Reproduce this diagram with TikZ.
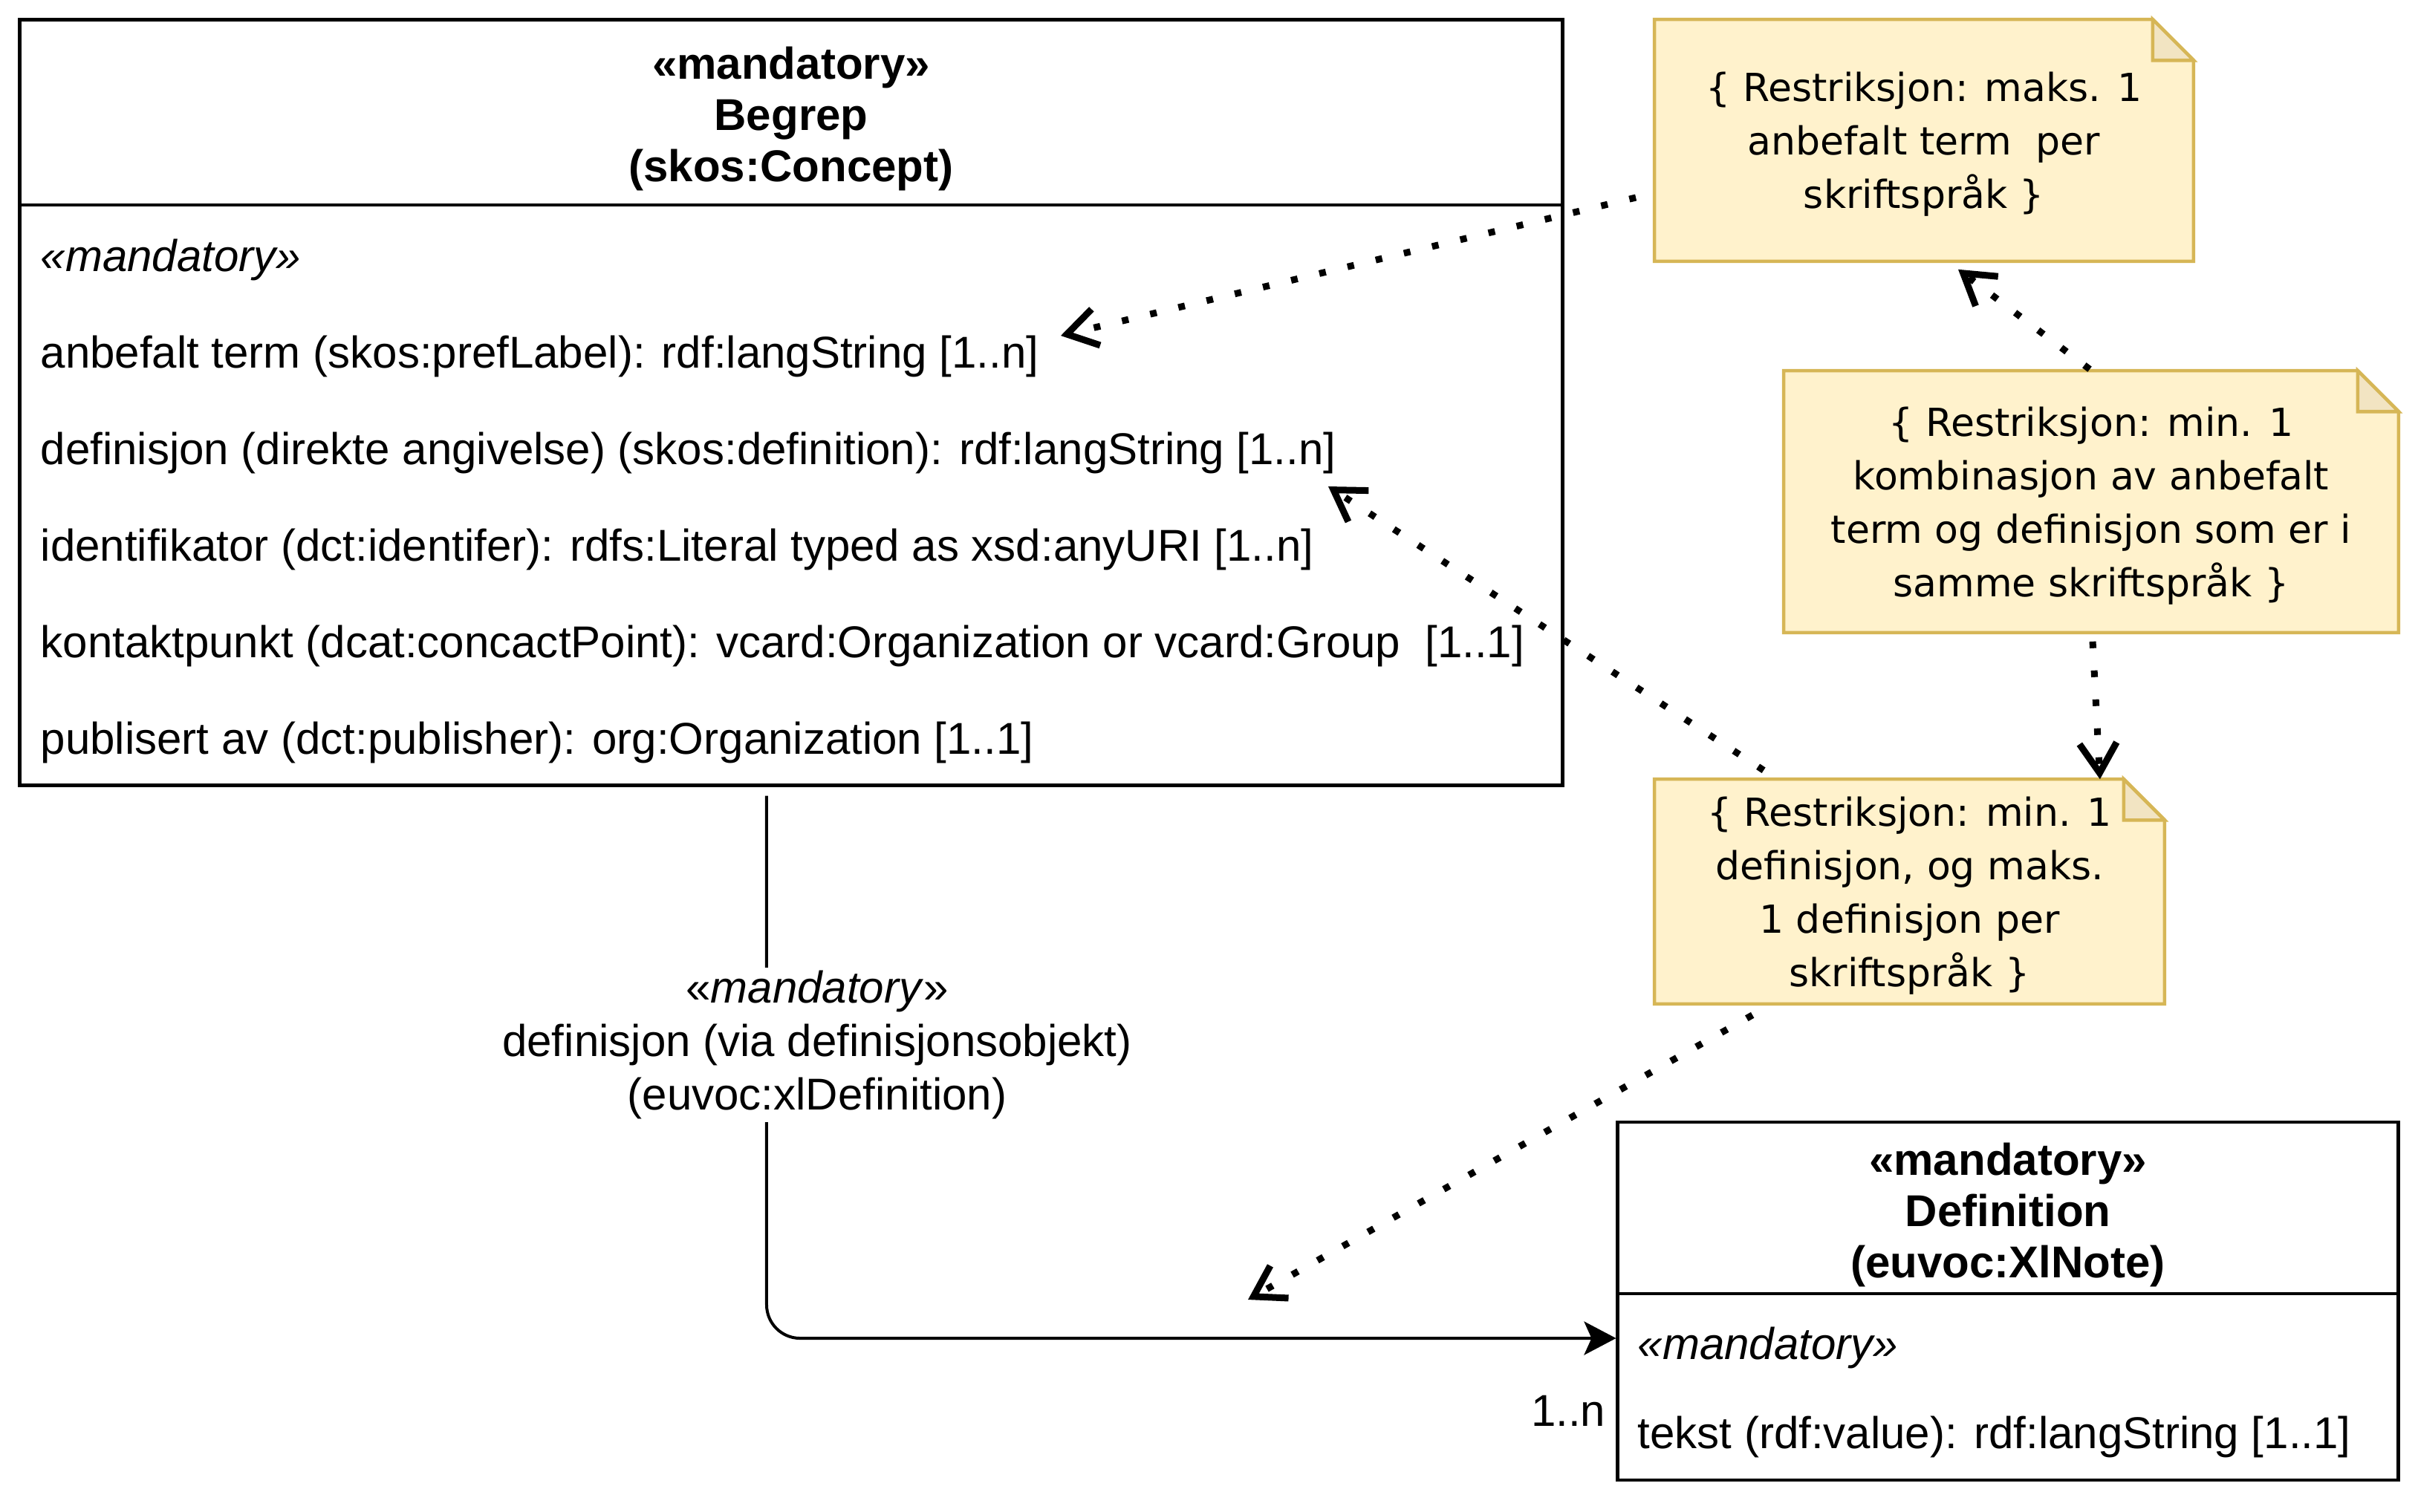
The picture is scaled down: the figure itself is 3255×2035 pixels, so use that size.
\documentclass[tikz,border=0pt]{standalone}
\usepackage{fontspec}
\setmainfont{Liberation Sans}
\newfontfamily\notefont{DejaVu Sans}
\usetikzlibrary{positioning, arrows.meta, backgrounds}
\definecolor{notefill}{HTML}{FFF2CC}
\definecolor{noteline}{HTML}{D6B656}
\definecolor{notefold}{HTML}{F2E4C2}

\begin{document}
\begin{tikzpicture}[x=0.01cm, y=-0.01cm,
    umlbox/.style={draw, line width=0.045cm, inner sep=0},
    hdr/.style={font=\fontsize{17.07pt}{19.6pt}\selectfont\bfseries, align=center, inner sep=0, text depth=0pt},
    attr/.style={font=\fontsize{17.07pt}{20pt}\selectfont, anchor=base west, inner sep=0},
    lbl/.style={font=\fontsize{17.07pt}{20.5pt}\selectfont, align=center, fill=white, inner xsep=0, inner ysep=0.04cm},
    note/.style={font=\notefont\fontsize{14.8pt}{20.5pt}\selectfont, align=center, inner sep=0, text depth=0pt},
    assoc/.style={line width=0.04cm, rounded corners=0.45cm, -{Stealth[length=0.43cm, width=0.45cm, inset=0.1cm]}},
    dotarrow/.style={line width=0.09cm, dash pattern=on 0.09cm off 0.3cm, -{Straight Barb[length=0.4cm, width=0.5cm]}}]
  \useasboundingbox (0,0) rectangle (3255,2035);

  % Begrep
  \node[umlbox, minimum width=20.76cm, minimum height=10.3cm] (begrep) at (1065,542) {};
  \coordinate (bsplit) at (0,276);
  \draw[line width=0.045cm] (begrep.west |- bsplit) -- (begrep.east |- bsplit);
  \node[hdr] (begrepHead) at (1065,154) {«mandatory»\\Begrep\\(skos:Concept)};
  \foreach \txt [count=\i] in {{\textit{«mandatory»}},
      {anbefalt term (skos:prefLabel): rdf:langString [1..n]},
      {definisjon (direkte angivelse) (skos:definition): rdf:langString [1..n]},
      {identifikator (dct:identifer): rdfs:Literal typed as xsd:anyURI [1..n]},
      {kontaktpunkt (dcat:concactPoint): vcard:Organization or vcard:Group\ \ [1..1]},
      {publisert av (dct:publisher): org:Organization [1..1]}}
    \node[attr] (battr\i) at (54, 235+130*\i) {\txt};

  % Definition
  \node[umlbox, minimum width=10.5cm, minimum height=4.82cm] (definition) at (2703,1752) {};
  \coordinate (dsplit) at (0,1742);
  \draw[line width=0.045cm] (definition.west |- dsplit) -- (definition.east |- dsplit);
  \node[hdr] (defHead) at (2703,1630) {«mandatory»\\Definition\\(euvoc:XlNote)};
  \node[attr] (dattr1) at (2204,1830) {\textit{«mandatory»}};
  \node[attr] (dattr2) at (2204,1950) {tekst (rdf:value): rdf:langString [1..1]};

  % notes
  \node[note, minimum width=7.24cm, minimum height=3.24cm] (noteA) at (2590,189)
    {\{ Restriksjon: maks. 1\\anbefalt term\ \ per\\skriftspråk \}};
  \node[note, minimum width=8.26cm, minimum height=3.51cm] (noteB) at (2815,675.5)
    {\{ Restriksjon: min. 1\\kombinasjon av anbefalt\\term og definisjon som er i\\samme skriftspråk \}};
  \node[note, minimum width=6.85cm, minimum height=3.01cm] (noteC) at (2570.5,1200.5)
    {\{ Restriksjon: min. 1\\definisjon, og maks.\\1 definisjon per\\skriftspråk \}};
  \begin{scope}[on background layer]
    \foreach \n in {noteA, noteB, noteC} {
      \draw[line width=0.045cm, draw=noteline, fill=notefill] (\n.north west) -- ([xshift=-0.55cm]\n.north east)
        -- ([yshift=-0.55cm]\n.north east) -- (\n.south east) -- (\n.south west) -- cycle;
      \draw[line width=0.045cm, draw=noteline, fill=notefold] ([xshift=-0.55cm]\n.north east)
        -- ([xshift=-0.55cm, yshift=-0.55cm]\n.north east) -- ([yshift=-0.55cm]\n.north east) -- cycle;
    }
  \end{scope}

  % association
  \coordinate (bend) at (0,1802);
  \draw[assoc] ([xshift=-0.33cm, yshift=-0.12cm]begrep.south) |- (definition.west |- bend);
  \node[lbl] (assocLbl) at (1100,1407) {«\textit{mandatory}»\\definisjon (via definisjonsobjekt)\\(euvoc:xlDefinition)};
  \node[attr, anchor=base east] (mult) at (2162,1920) {1..n};

  % constraints
  \coordinate (tipA) at (1428,452);
  \coordinate (tipB) at (1788,655);
  \coordinate (tipE) at (1680,1750);
  \draw[dotarrow] ([shift={(-25,77)}]noteA.west) -- (tipA);
  \draw[dotarrow] ([shift={(147,-12)}]noteC.north west) -- (tipB);
  \draw[dotarrow] ([shift={(-2,-2)}]noteB.north) -- ([shift={(46,11)}]noteA.south);
  \draw[dotarrow] ([shift={(2,12)}]noteB.south) -- ([xshift=-0.87cm]noteC.north east);
  \draw[dotarrow] ([shift={(132,15)}]noteC.south west) -- (tipE);
\end{tikzpicture}
\end{document}
